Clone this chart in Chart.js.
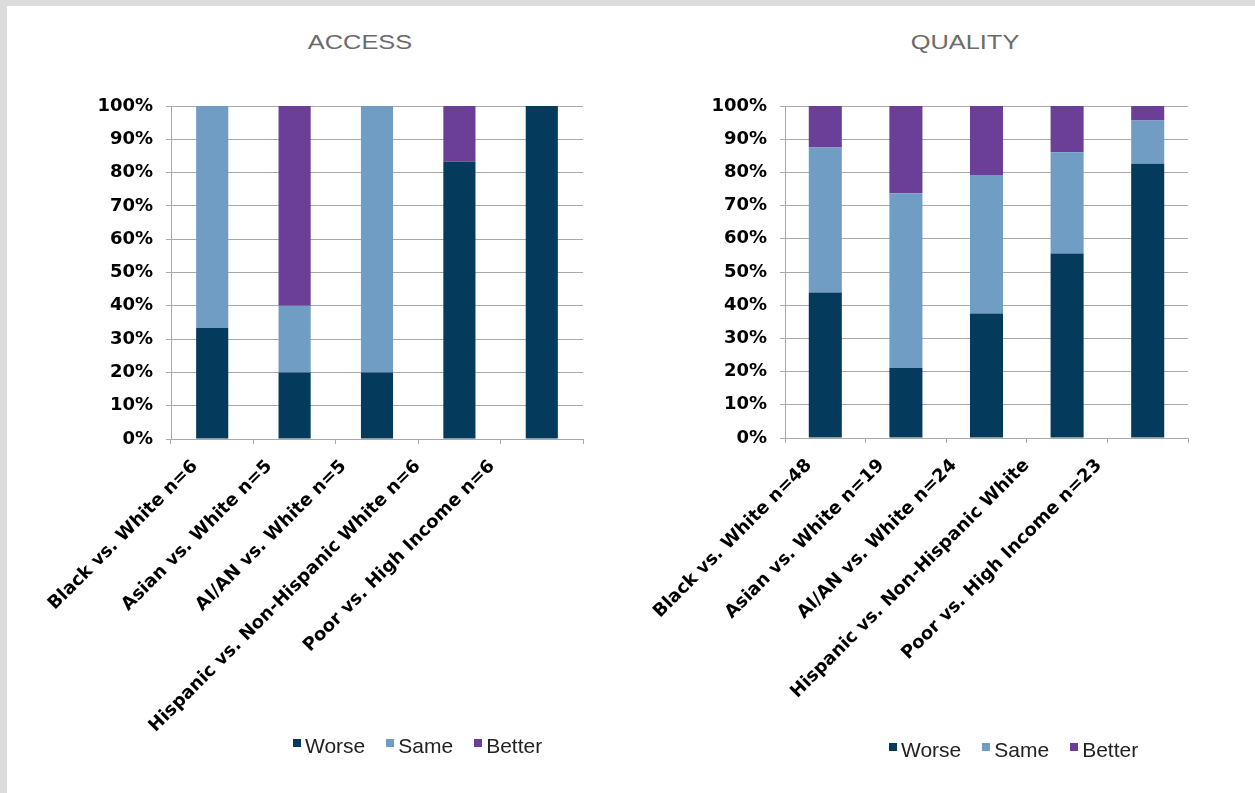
<!DOCTYPE html>
<html>
<head>
<meta charset="utf-8">
<title>Access and Quality</title>
<script src="https://cdn.jsdelivr.net/npm/chart.js@4.4.1/dist/chart.umd.min.js"></script>
<style>
  html, body { margin: 0; padding: 0; }
  body { width: 1255px; height: 793px; background: #dcdcdc; position: relative; overflow: hidden; }
  .sheet { position: absolute; left: 7px; top: 6px; right: 0; bottom: 0; background: #ffffff; }
  .panel { position: absolute; top: 0; height: 793px; }
  .panel canvas { position: absolute; left: 0; top: 0; }
  .heading {
    position: absolute; width: 300px; text-align: center;
    font-family: "Liberation Sans", Arial, sans-serif; font-size: 20px; line-height: 20px;
    color: #6b6b6b; transform: scaleX(1.27); transform-origin: 50% 50%;
  }
  .legend {
    position: absolute; display: flex; align-items: flex-start;
    font-family: "Liberation Sans", Arial, sans-serif; font-size: 21px; line-height: 21px; color: #222;
  }
  .legend .item { display: flex; align-items: flex-start; margin-right: 21px; }
  .legend .swatch { width: 8px; height: 8px; margin-top: 4px; margin-right: 4px; }
</style>
</head>
<body>
<div class="sheet"></div>

<div class="heading" id="accessTitle" style="left:210px; top:32px;">ACCESS</div>
<div class="heading" id="qualityTitle" style="left:815px; top:32px;">QUALITY</div>

<div class="panel" style="left:0; width:627px;"><canvas id="accessChart" width="627" height="793"></canvas></div>
<div class="panel" style="left:627px; width:628px;"><canvas id="qualityChart" width="628" height="793"></canvas></div>

<div class="legend" id="accessLegend" style="left:293px; top:735px;"></div>
<div class="legend" id="qualityLegend" style="left:889px; top:739px;"></div>

<script>
// Series names and colours
const seriesNames = ['Worse', 'Same', 'Better'];
const seriesColors = ['#043b5c', '#6f9dc4', '#6b3e98'];

// ACCESS panel
const accessCategories = [
  'Black vs. White n=6',
  'Asian vs. White n=5',
  'AI/AN vs. White n=5',
  'Hispanic vs. Non-Hispanic White n=6',
  'Poor vs. High Income n=6'
];
const accessWorse  = [33.3, 20, 20, 83.3, 100];
const accessSame   = [66.7, 20, 80, 0, 0];
const accessBetter = [0, 60, 0, 16.7, 0];

// QUALITY panel
const qualityCategories = [
  'Black vs. White n=48',
  'Asian vs. White n=19',
  'AI/AN vs. White n=24',
  'Hispanic vs. Non-Hispanic White',
  'Poor vs. High Income n=23'
];
const qualityWorse  = [43.8, 21.1, 37.5, 55.6, 82.6];
const qualitySame   = [43.7, 52.6, 41.7, 30.5, 13.0];
const qualityBetter = [12.5, 26.3, 20.8, 13.9, 4.4];

// Percent axis ticks
const percentTicks = [0, 10, 20, 30, 40, 50, 60, 70, 80, 90, 100];

const gridGray = '#a9a9a9';
const tickFont = { family: '"DejaVu Sans", sans-serif', size: 18, weight: 'bold' };

function buildChart(canvasId, categories, series, geom) {
  const datasets = series.map((values, i) => ({
    label: seriesNames[i],
    data: values,
    backgroundColor: seriesColors[i],
    borderWidth: 0,
    categoryPercentage: 1,
    barPercentage: geom.barPct,
    xAxisID: 'x',
    yAxisID: 'y'
  }));

  return new Chart(document.getElementById(canvasId), {
    type: 'bar',
    data: { labels: categories, datasets },
    options: {
      responsive: false,
      animation: false,
      layout: { padding: { top: geom.top, right: geom.right, bottom: 0, left: 0 } },
      plugins: { legend: { display: false }, tooltip: { enabled: false }, title: { display: false } },
      scales: {
        // category axis: bars and the short tick marks between categories
        x: {
          stacked: true, weight: 0,
          grid: { display: true, drawOnChartArea: false, color: gridGray, tickLength: 5, offset: true },
          border: { display: true, color: gridGray },
          ticks: { display: false },
          afterFit(scale) {
            scale.height = 5;
            scale.paddingLeft = 0; scale.paddingRight = 0;
          }
        },
        // slanted category names, spaced a little tighter than the bars
        names: {
          type: 'linear', position: 'bottom', weight: 1, bounds: 'data', offset: false,
          min: geom.nameMin, max: geom.nameMax,
          afterBuildTicks(scale) {
            scale.ticks = categories.map((c, i) => ({ value: i }));
            scale.min = geom.nameMin;
            scale.max = geom.nameMax;
          },
          grid: { display: false, drawTicks: false },
          border: { display: false },
          ticks: {
            color: '#000', font: tickFont, autoSkip: false,
            minRotation: 45, maxRotation: 45, padding: 12,
            callback: v => categories[v]
          },
          afterFit(scale) {
            scale.height = geom.namesHeight;
            scale.paddingLeft = 0; scale.paddingRight = 0;
          }
        },
        y: {
          stacked: true, min: 0, max: 100,
          afterBuildTicks(scale) { scale.ticks = percentTicks.map(v => ({ value: v })); },
          grid: { color: gridGray, tickLength: 5 },
          border: { display: true, color: gridGray },
          ticks: { color: '#000', font: tickFont, padding: 13, callback: v => v + '%' },
          afterFit(scale) {
            scale.width = geom.yWidth;
            scale.paddingTop = 0; scale.paddingBottom = 0;
          }
        }
      }
    }
  });
}

function buildLegend(id) {
  const box = document.getElementById(id);
  seriesNames.forEach((name, i) => {
    const item = document.createElement('div');
    item.className = 'item';
    const sw = document.createElement('span');
    sw.className = 'swatch';
    sw.style.background = seriesColors[i];
    const txt = document.createElement('span');
    txt.textContent = name;
    item.appendChild(sw);
    item.appendChild(txt);
    box.appendChild(item);
  });
}

buildChart('accessChart', accessCategories, [accessWorse, accessSame, accessBetter],
  { top: 106, right: 44, yWidth: 171, namesHeight: 349, barPct: 0.39, nameMin: -0.323, nameMax: 5.226 });
buildChart('qualityChart', qualityCategories, [qualityWorse, qualitySame, qualityBetter],
  { top: 106, right: 67, yWidth: 158, namesHeight: 350, barPct: 0.41, nameMin: -0.331, nameMax: 5.228 });

buildLegend('accessLegend');
buildLegend('qualityLegend');
</script>
</body>
</html>
